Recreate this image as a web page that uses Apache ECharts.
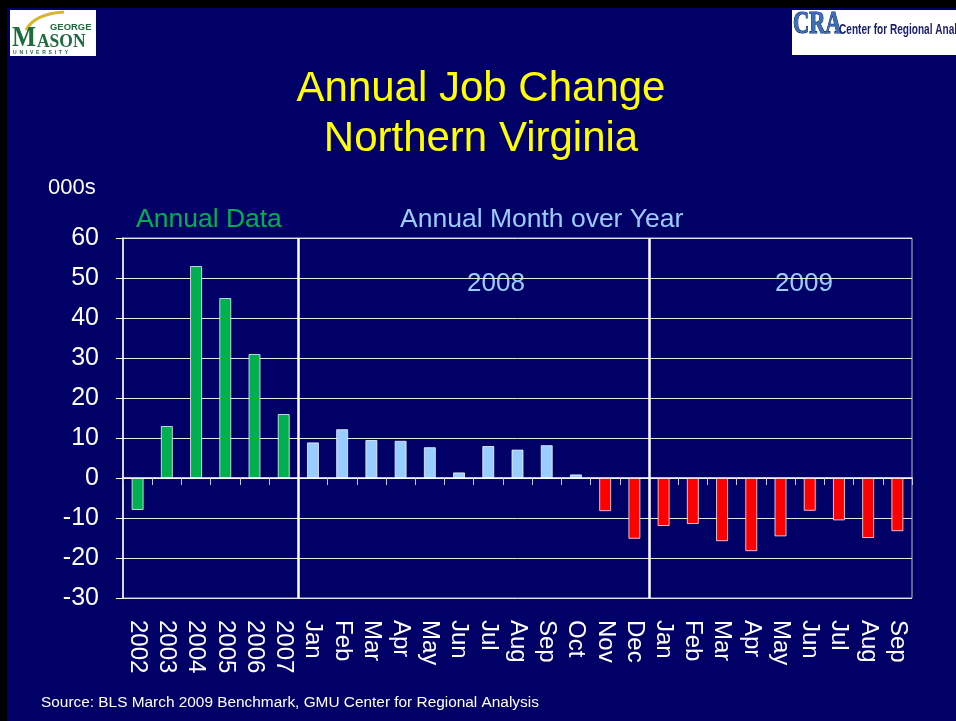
<!DOCTYPE html>
<html>
<head>
<meta charset="utf-8">
<title>Annual Job Change Northern Virginia</title>
<script src="https://cdn.jsdelivr.net/npm/echarts@6/dist/echarts.min.js"></script>
<style>
    html, body { margin: 0; padding: 0; background: #000; }
    #chart { width: 956px; height: 721px; }
</style>
</head>
<body>
<div id="chart"></div>
<script>
    // 年度数据 + 2008/2009 月度同比 (000s)
    const years = ['2002', '2003', '2004', '2005', '2006', '2007'];
    const months2008 = ['Jan', 'Feb', 'Mar', 'Apr', 'May', 'Jun', 'Jul', 'Aug', 'Sep', 'Oct', 'Nov', 'Dec'];
    const months2009 = ['Jan', 'Feb', 'Mar', 'Apr', 'May', 'Jun', 'Jul', 'Aug', 'Sep'];

    const annualValues = [-8, 13, 53, 45, 31, 16];
    const values2008 = [8.9, 12.2, 9.5, 9.3, 7.7, 1.4, 8.0, 7.1, 8.2, 0.9, -8.3, -15.2];
    const values2009 = [-12.0, -11.5, -15.8, -18.3, -14.6, -8.2, -10.6, -15.0, -13.3];

    const yTicks = { min: -30, max: 60, interval: 10 };

    const categories = years.concat(months2008, months2009);
    const jobChange = annualValues.concat(values2008, values2009);
    // 分隔线位置 (类目边界)
    const dividers = [years.length, years.length + months2008.length];

    const FONT = '"Liberation Sans", Arial, sans-serif';
    const SERIF = '"Liberation Serif", "DejaVu Serif", serif';
    const NAVY = '#000066';
    const GREEN = '#00B050';
    const LIGHT_BLUE = '#99CCFF';
    const RED = '#FF0000';

    const chart = echarts.init(document.getElementById('chart'), null, { renderer: 'canvas' });

    const text = (x, y, str, size, color, extra, props) => Object.assign({
        type: 'text',
        x,
        y,
        silent: true,
        style: Object.assign({
            text: str,
            font: `${size}px ${FONT}`,
            fill: color,
            verticalAlign: 'middle',
            align: 'left'
        }, extra || {})
    }, props || {});

    const option = {
        backgroundColor: NAVY,
        animation: false,
        grid: {
            left: 123,
            right: 44,
            top: 238,
            bottom: 123,
            show: true,
            borderColor: '#bfbfbf',
            borderWidth: 1,
            outerBoundsMode: 'none'
        },
        xAxis: [
            {
                // 底部标签
                type: 'category',
                data: categories,
                position: 'bottom',
                axisLine: { show: false, onZero: false },
                axisTick: { show: false },
                splitLine: { show: false },
                axisLabel: {
                    interval: 0,
                    rotate: -90,
                    margin: 22,
                    color: '#fff',
                    fontSize: 24,
                    fontFamily: FONT
                }
            },
            {
                // 零线和刻度
                type: 'category',
                data: categories,
                position: 'top',
                axisLine: { show: true, onZero: true, lineStyle: { color: '#fff', width: 1.5 } },
                axisTick: { show: true, inside: true, length: 7, interval: 0, lineStyle: { color: '#c8c8d8' } },
                axisLabel: { show: false },
                splitLine: { show: false }
            },
            {
                type: 'value',
                min: 0,
                max: categories.length,
                show: false
            }
        ],
        yAxis: {
            type: 'value',
            min: yTicks.min,
            max: yTicks.max,
            interval: yTicks.interval,
            axisLine: { show: true, onZero: false, lineStyle: { color: '#fff', width: 1.5 } },
            axisTick: { show: true, length: 7, lineStyle: { color: '#fff' } },
            axisLabel: {
                color: '#fff',
                fontSize: 25,
                fontFamily: FONT,
                margin: 24
            },
            splitLine: { show: true, lineStyle: { color: '#e6e6e6', width: 1 } }
        },
        series: [
            {
                type: 'bar',
                xAxisIndex: 0,
                yAxisIndex: 0,
                data: jobChange,
                barWidth: 12,
                itemStyle: {
                    color: p => (p.dataIndex < years.length ? GREEN : (p.value >= 0 ? LIGHT_BLUE : RED)),
                    borderColor: 'rgba(255,255,255,0.75)',
                    borderWidth: 1
                }
            },
            {
                type: 'line',
                xAxisIndex: 2,
                yAxisIndex: 0,
                data: [],
                silent: true,
                markLine: {
                    silent: true,
                    symbol: 'none',
                    label: { show: false },
                    lineStyle: { color: '#fff', width: 2.5, type: 'solid' },
                    data: dividers.map(d => ({ xAxis: d }))
                }
            }
        ],
        graphic: [
            // 黑边
            { type: 'rect', shape: { x: 0, y: 0, width: 956, height: 8 }, style: { fill: '#000' }, silent: true },
            { type: 'rect', shape: { x: 0, y: 0, width: 7, height: 721 }, style: { fill: '#000' }, silent: true },

            // GMU logo
            { type: 'rect', shape: { x: 10, y: 10, width: 86, height: 46 }, style: { fill: '#fff' }, silent: true },
            {
                type: 'bezierCurve',
                shape: { x1: 26, y1: 30, x2: 64, y2: 12, cpx1: 32, cpy1: 19, cpx2: 46, cpy2: 13 },
                style: { stroke: '#d9b626', lineWidth: 3, fill: 'none' },
                silent: true
            },
            text(50, 28, 'GEORGE', 9, '#1d6b3e', { font: `bold 9px ${FONT}` }, { scaleX: 1.05 }),
            text(12, 38, 'M', 30, '#1d6b3e', { font: `bold 30px ${SERIF}` }, { scaleX: 0.85 }),
            text(37, 42, 'ASON', 19, '#1d6b3e', { font: `bold 19px ${SERIF}` }, { scaleX: 0.92 }),
            text(13, 53, 'U  N  I  V  E  R  S  I  T  Y', 5, '#1d6b3e', { font: `bold 5px ${FONT}` }),

            // CRA logo
            { type: 'rect', shape: { x: 792, y: 10, width: 170, height: 45 }, style: { fill: '#fff' }, silent: true },
            text(793, 25, 'CRA', 32, '#3b6fb5', {
                font: `bold 32px ${SERIF}`,
                stroke: '#0d1f5c',
                lineWidth: 1.2
            }, { scaleX: 0.7 }),
            text(839, 30, 'Center for Regional Analysis', 14, '#1b1f6b', { font: `bold 14px ${FONT}` }, { scaleX: 0.72 }),

            // 标题
            text(481, 89, 'Annual Job Change', 42, '#FFFF00', { align: 'center' }),
            text(481, 139, 'Northern Virginia', 42, '#FFFF00', { align: 'center' }),

            text(48, 188, '000s', 22, '#fff'),
            text(136, 220, 'Annual Data', 26.5, GREEN),
            text(400, 220, 'Annual Month over Year', 26.5, LIGHT_BLUE),
            text(467, 284, '2008', 26, LIGHT_BLUE),
            text(775, 284, '2009', 26, LIGHT_BLUE),

            text(41, 703, 'Source: BLS March 2009 Benchmark, GMU Center for Regional Analysis', 15.4, '#fff')
        ]
    };

    chart.setOption(option);

    window.addEventListener('resize', () => chart.resize());
</script>
</body>
</html>
